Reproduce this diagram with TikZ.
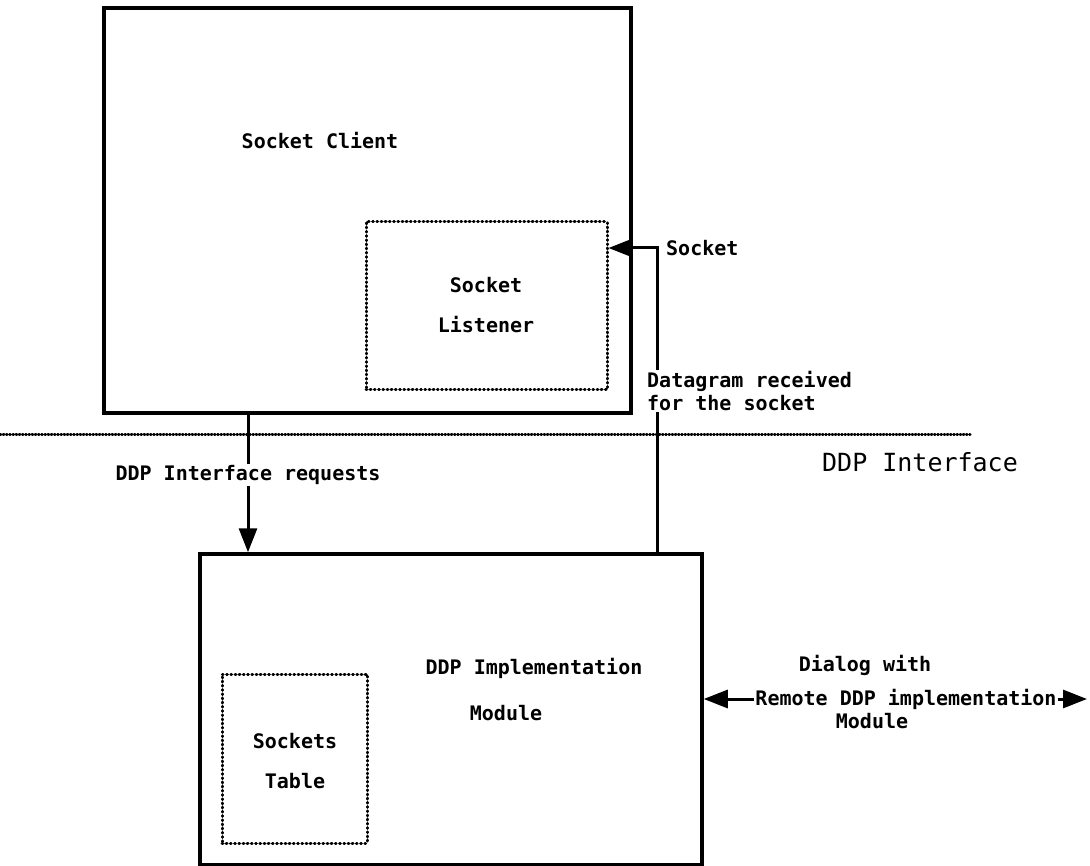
\documentclass[tikz,border=0pt]{standalone}
\usepackage{fontspec}
\setmonofont{DejaVu Sans Mono}
\usetikzlibrary{arrows.meta}
\tikzstyle{arrow} = [-{Triangle[length=24pt,width=18pt]},line width=3pt]
\tikzstyle{box} = [draw,line width=3.5pt,rectangle,inner sep=0pt]
\tikzstyle{dotbox} = [draw,line width=3pt,dash pattern=on 0.8pt off 3.4pt,line cap=round,rectangle,inner sep=0pt]
\tikzstyle{txt} = [font=\fontsize{20pt}{40pt}\selectfont\ttfamily\bfseries,inner sep=1pt,align=center]

\begin{document}
\begin{tikzpicture}[x=1pt,y=-1pt]
\useasboundingbox (0,0) rectangle (1090,866);
% upper side: the client
\node[box,minimum width=527pt,minimum height=405pt](client)at(367.5,210.5){};
\node[txt](clientlbl)at(320,141){Socket Client};
\node[dotbox,minimum width=241pt,minimum height=168pt](listener)at(486.5,306){};
\node[txt](listenerlbl)at(486,305){Socket\\Listener};
% the interface
\coordinate(ifl)at(0,435);
\coordinate(ifr)at(970,435);
\draw[line width=3pt,dash pattern=on 0.8pt off 2.4pt,line cap=round](ifl)--(ifr);
\node[font=\fontsize{25pt}{30pt}\selectfont\ttfamily,inner sep=1pt](iflbl)at(920,462){DDP Interface};
% lower side: the implementation
\node[box,minimum width=502pt,minimum height=311pt](ddp)at(451,709.5){};
\node[txt](ddplbl)at(534,668){DDP Implementation};
\node[txt](modlbl)at(506,713){Module};
\node[dotbox,minimum width=145pt,minimum height=169pt](table)at(294.5,758.5){};
\node[txt](tablelbl)at(295,761){Sockets\\Table};
% requests going down
\node[txt,fill=white](req)at(248,475){DDP Interface requests};
\draw[line width=3pt](client.south -| req)--(req.north);
\draw[arrow](req.south)--(ddp.north -| req);
% datagram going up
\coordinate(bend)at(657,248);
\draw[arrow](ddp.north -| bend)--(bend)--(listener.east |- bend);
\node[txt,fill=white,align=left,anchor=west,font=\fontsize{20pt}{23pt}\selectfont\ttfamily\bfseries](dgram)at(646,391){Datagram received\\for the socket};
\node[txt,anchor=west](socklbl)at(665,248){Socket};
% dialog with the remote module
\node[txt](dialog)at(865,665){Dialog with};
\node[txt](remote)at(906,699){Remote DDP implementation};
\node[txt](remmod)at(872,721){Module};
\coordinate(rtip)at(1087,699);
\draw[arrow](remote.west)--(ddp.east |- remote.west);
\draw[arrow](remote.east)--(rtip);
\end{tikzpicture}
\end{document}
